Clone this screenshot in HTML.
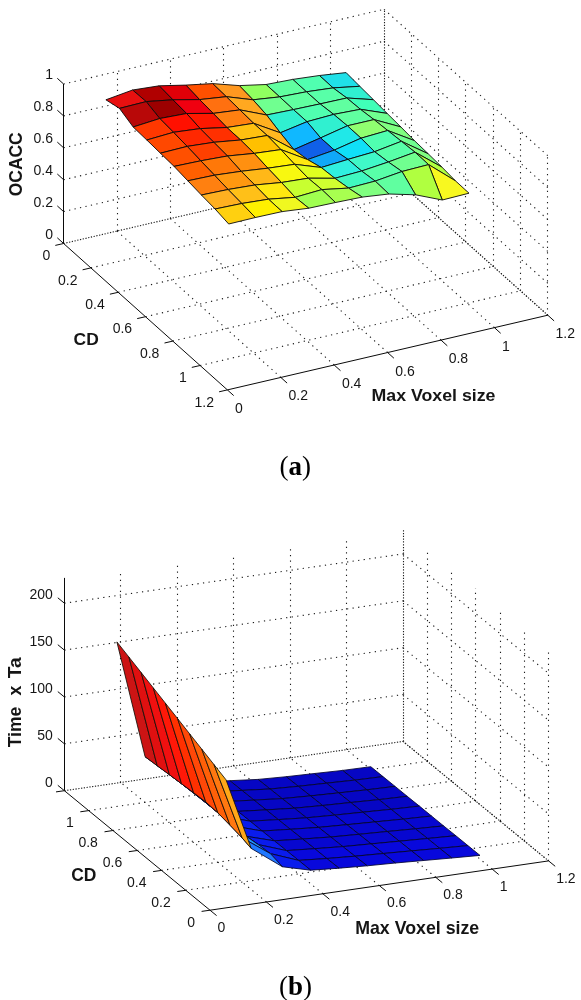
<!DOCTYPE html>
<html lang="en">
<head>
<meta charset="utf-8">
<title>Figure: OCACC and Time x Ta versus CD and Max Voxel size</title>
<style>
html,body{margin:0;padding:0;background:#fff;}
body{width:581px;height:1000px;overflow:hidden;}
svg{display:block;font-family:"Liberation Sans",sans-serif;fill:#151515;}
svg line{shape-rendering:auto;}
</style>
</head>
<body>
<svg width="581" height="1000" viewBox="0 0 581 1000">
<rect x="0" y="0" width="581" height="1000" fill="#ffffff"/>
<g id="plot-a">
<line x1="63.6" y1="243.5" x2="384.0" y2="168.8" stroke="#1c1c1c" stroke-width="1.1" stroke-dasharray="1.25 4.35" fill="none"/>
<line x1="384.0" y1="168.8" x2="547.8" y2="315.2" stroke="#1c1c1c" stroke-width="1.1" stroke-dasharray="1.25 4.35" fill="none"/>
<line x1="63.6" y1="211.6" x2="384.0" y2="136.9" stroke="#1c1c1c" stroke-width="1.1" stroke-dasharray="1.25 4.35" fill="none"/>
<line x1="384.0" y1="136.9" x2="547.8" y2="283.3" stroke="#1c1c1c" stroke-width="1.1" stroke-dasharray="1.25 4.35" fill="none"/>
<line x1="63.6" y1="179.7" x2="384.0" y2="105.0" stroke="#1c1c1c" stroke-width="1.1" stroke-dasharray="1.25 4.35" fill="none"/>
<line x1="384.0" y1="105.0" x2="547.8" y2="251.4" stroke="#1c1c1c" stroke-width="1.1" stroke-dasharray="1.25 4.35" fill="none"/>
<line x1="63.6" y1="147.8" x2="384.0" y2="73.1" stroke="#1c1c1c" stroke-width="1.1" stroke-dasharray="1.25 4.35" fill="none"/>
<line x1="384.0" y1="73.1" x2="547.8" y2="219.5" stroke="#1c1c1c" stroke-width="1.1" stroke-dasharray="1.25 4.35" fill="none"/>
<line x1="63.6" y1="115.9" x2="384.0" y2="41.2" stroke="#1c1c1c" stroke-width="1.1" stroke-dasharray="1.25 4.35" fill="none"/>
<line x1="384.0" y1="41.2" x2="547.8" y2="187.6" stroke="#1c1c1c" stroke-width="1.1" stroke-dasharray="1.25 4.35" fill="none"/>
<line x1="63.6" y1="84.0" x2="384.0" y2="9.3" stroke="#1c1c1c" stroke-width="1.1" stroke-dasharray="1.25 4.35" fill="none"/>
<line x1="384.0" y1="9.3" x2="547.8" y2="155.7" stroke="#1c1c1c" stroke-width="1.1" stroke-dasharray="1.25 4.35" fill="none"/>
<line x1="117.5" y1="231.1" x2="117.5" y2="71.6" stroke="#1c1c1c" stroke-width="1.1" stroke-dasharray="1.25 4.35" fill="none"/>
<line x1="411.5" y1="193.2" x2="411.5" y2="33.7" stroke="#1c1c1c" stroke-width="1.1" stroke-dasharray="1.25 4.35" fill="none"/>
<line x1="170.5" y1="218.6" x2="170.5" y2="59.1" stroke="#1c1c1c" stroke-width="1.1" stroke-dasharray="1.25 4.35" fill="none"/>
<line x1="438.5" y1="217.6" x2="438.5" y2="58.1" stroke="#1c1c1c" stroke-width="1.1" stroke-dasharray="1.25 4.35" fill="none"/>
<line x1="223.5" y1="206.1" x2="223.5" y2="46.6" stroke="#1c1c1c" stroke-width="1.1" stroke-dasharray="1.25 4.35" fill="none"/>
<line x1="465.5" y1="242.0" x2="465.5" y2="82.5" stroke="#1c1c1c" stroke-width="1.1" stroke-dasharray="1.25 4.35" fill="none"/>
<line x1="277.5" y1="193.7" x2="277.5" y2="34.2" stroke="#1c1c1c" stroke-width="1.1" stroke-dasharray="1.25 4.35" fill="none"/>
<line x1="493.5" y1="266.4" x2="493.5" y2="106.9" stroke="#1c1c1c" stroke-width="1.1" stroke-dasharray="1.25 4.35" fill="none"/>
<line x1="330.5" y1="181.2" x2="330.5" y2="21.8" stroke="#1c1c1c" stroke-width="1.1" stroke-dasharray="1.25 4.35" fill="none"/>
<line x1="520.5" y1="290.8" x2="520.5" y2="131.3" stroke="#1c1c1c" stroke-width="1.1" stroke-dasharray="1.25 4.35" fill="none"/>
<line x1="384.5" y1="168.8" x2="384.5" y2="9.3" stroke="#1c1c1c" stroke-width="1.1" stroke-dasharray="1.25 4.35" fill="none"/>
<line x1="547.5" y1="315.2" x2="547.5" y2="155.7" stroke="#1c1c1c" stroke-width="1.1" stroke-dasharray="1.25 4.35" fill="none"/>
<line x1="280.8" y1="377.4" x2="117.0" y2="231.1" stroke="#1c1c1c" stroke-width="1.1" stroke-dasharray="1.25 4.35" fill="none"/>
<line x1="334.2" y1="365.0" x2="170.4" y2="218.6" stroke="#1c1c1c" stroke-width="1.1" stroke-dasharray="1.25 4.35" fill="none"/>
<line x1="387.6" y1="352.5" x2="223.8" y2="206.1" stroke="#1c1c1c" stroke-width="1.1" stroke-dasharray="1.25 4.35" fill="none"/>
<line x1="441.0" y1="340.1" x2="277.2" y2="193.7" stroke="#1c1c1c" stroke-width="1.1" stroke-dasharray="1.25 4.35" fill="none"/>
<line x1="494.4" y1="327.6" x2="330.6" y2="181.2" stroke="#1c1c1c" stroke-width="1.1" stroke-dasharray="1.25 4.35" fill="none"/>
<line x1="547.8" y1="315.2" x2="384.0" y2="168.8" stroke="#1c1c1c" stroke-width="1.1" stroke-dasharray="1.25 4.35" fill="none"/>
<line x1="90.9" y1="267.9" x2="411.3" y2="193.2" stroke="#1c1c1c" stroke-width="1.1" stroke-dasharray="1.25 4.35" fill="none"/>
<line x1="118.2" y1="292.3" x2="438.6" y2="217.6" stroke="#1c1c1c" stroke-width="1.1" stroke-dasharray="1.25 4.35" fill="none"/>
<line x1="145.5" y1="316.7" x2="465.9" y2="242.0" stroke="#1c1c1c" stroke-width="1.1" stroke-dasharray="1.25 4.35" fill="none"/>
<line x1="172.8" y1="341.1" x2="493.2" y2="266.4" stroke="#1c1c1c" stroke-width="1.1" stroke-dasharray="1.25 4.35" fill="none"/>
<line x1="200.1" y1="365.5" x2="520.5" y2="290.8" stroke="#1c1c1c" stroke-width="1.1" stroke-dasharray="1.25 4.35" fill="none"/>
<line x1="63.6" y1="243.5" x2="384.0" y2="168.8" stroke="#1c1c1c" stroke-width="1.1" stroke-dasharray="1.25 4.35" fill="none" stroke-dashoffset="2.8"/>
<line x1="384.0" y1="168.8" x2="547.8" y2="315.2" stroke="#1c1c1c" stroke-width="1.1" stroke-dasharray="1.25 4.35" fill="none" stroke-dashoffset="2.8"/>
<line x1="384.5" y1="168.8" x2="384.5" y2="9.3" stroke="#1c1c1c" stroke-width="1.1" stroke-dasharray="1.25 4.35" fill="none" stroke-dashoffset="2.8"/>
<g stroke="#0a0a0a" stroke-width="0.9" stroke-linejoin="round">
<polygon points="319.4,75.5 346.1,72.6 359.8,86.3 333.1,87.9" fill="#20E0E8"/>
<polygon points="292.8,79.4 319.4,75.5 333.1,87.9 306.4,91.8" fill="#50FFB0"/>
<polygon points="266.1,84.5 292.8,79.4 306.4,91.8 279.7,96.9" fill="#60FFA0"/>
<polygon points="239.3,85.6 266.1,84.5 279.7,96.9 253.0,99.8" fill="#90FF60"/>
<polygon points="212.7,83.6 239.3,85.6 253.0,99.8 226.3,96.7" fill="#FF9820"/>
<polygon points="185.9,85.1 212.7,83.6 226.3,96.7 199.6,99.6" fill="#FF5000"/>
<polygon points="159.2,85.8 185.9,85.1 199.6,99.6 172.9,99.8" fill="#E00008"/>
<polygon points="132.6,90.0 159.2,85.8 172.9,99.8 146.2,101.6" fill="#B00000"/>
<polygon points="105.9,99.8 132.6,90.0 146.2,101.6 119.5,108.4" fill="#E81010"/>
<polygon points="333.1,87.9 359.8,86.3 373.4,99.7 346.8,98.0" fill="#30F0D0"/>
<polygon points="306.4,91.8 333.1,87.9 346.8,98.0 320.1,103.9" fill="#58FFA8"/>
<polygon points="279.7,96.9 306.4,91.8 320.1,103.9 293.4,109.6" fill="#60FFA0"/>
<polygon points="253.0,99.8 279.7,96.9 293.4,109.6 266.6,115.0" fill="#70FF90"/>
<polygon points="226.3,96.7 253.0,99.8 266.6,115.0 239.9,109.9" fill="#FFA820"/>
<polygon points="199.6,99.6 226.3,96.7 239.9,109.9 213.2,113.4" fill="#FF7010"/>
<polygon points="172.9,99.8 199.6,99.6 213.2,113.4 186.6,113.5" fill="#F00010"/>
<polygon points="146.2,101.6 172.9,99.8 186.6,113.5 159.8,118.5" fill="#9C0000"/>
<polygon points="119.5,108.4 146.2,101.6 159.8,118.5 133.2,127.0" fill="#B80808"/>
<polygon points="346.8,98.0 373.4,99.7 387.1,113.4 360.4,109.3" fill="#40FFB8"/>
<polygon points="320.1,103.9 346.8,98.0 360.4,109.3 333.7,114.4" fill="#60FFA0"/>
<polygon points="293.4,109.6 320.1,103.9 333.7,114.4 307.0,121.7" fill="#50FFB0"/>
<polygon points="266.6,115.0 293.4,109.6 307.0,121.7 280.3,132.8" fill="#30F0D0"/>
<polygon points="239.9,109.9 266.6,115.0 280.3,132.8 253.6,123.3" fill="#FFB020"/>
<polygon points="213.2,113.4 239.9,109.9 253.6,123.3 226.9,127.5" fill="#FF8010"/>
<polygon points="186.6,113.5 213.2,113.4 226.9,127.5 200.2,128.6" fill="#FF1800"/>
<polygon points="159.8,118.5 186.6,113.5 200.2,128.6 173.5,132.3" fill="#FF1000"/>
<polygon points="133.2,127.0 159.8,118.5 173.5,132.3 146.8,140.0" fill="#FF3800"/>
<polygon points="360.4,109.3 387.1,113.4 400.8,126.9 374.0,119.6" fill="#70FF90"/>
<polygon points="333.7,114.4 360.4,109.3 374.0,119.6 347.4,125.8" fill="#60FFA0"/>
<polygon points="307.0,121.7 333.7,114.4 347.4,125.8 320.6,137.9" fill="#30F0D0"/>
<polygon points="280.3,132.8 307.0,121.7 320.6,137.9 293.9,149.6" fill="#10B8FF"/>
<polygon points="253.6,123.3 280.3,132.8 293.9,149.6 267.2,135.5" fill="#FFB820"/>
<polygon points="226.9,127.5 253.6,123.3 267.2,135.5 240.6,140.0" fill="#FFC010"/>
<polygon points="200.2,128.6 226.9,127.5 240.6,140.0 213.8,142.3" fill="#FF3000"/>
<polygon points="173.5,132.3 200.2,128.6 213.8,142.3 187.2,146.4" fill="#FF2800"/>
<polygon points="146.8,140.0 173.5,132.3 187.2,146.4 160.4,153.2" fill="#FF4800"/>
<polygon points="374.0,119.6 400.8,126.9 414.4,140.6 387.7,130.5" fill="#80FF80"/>
<polygon points="347.4,125.8 374.0,119.6 387.7,130.5 361.0,138.2" fill="#90FF70"/>
<polygon points="320.6,137.9 347.4,125.8 361.0,138.2 334.3,150.1" fill="#20E8E8"/>
<polygon points="293.9,149.6 320.6,137.9 334.3,150.1 307.6,159.6" fill="#1060E8"/>
<polygon points="267.2,135.5 293.9,149.6 307.6,159.6 280.9,149.6" fill="#FFE010"/>
<polygon points="240.6,140.0 267.2,135.5 280.9,149.6 254.2,153.4" fill="#FFC000"/>
<polygon points="213.8,142.3 240.6,140.0 254.2,153.4 227.5,156.0" fill="#FF6A00"/>
<polygon points="187.2,146.4 213.8,142.3 227.5,156.0 200.8,160.8" fill="#FF4000"/>
<polygon points="160.4,153.2 187.2,146.4 200.8,160.8 174.1,166.4" fill="#FF5000"/>
<polygon points="387.7,130.5 414.4,140.6 428.1,153.7 401.4,141.3" fill="#70FF90"/>
<polygon points="361.0,138.2 387.7,130.5 401.4,141.3 374.6,151.7" fill="#50FFB0"/>
<polygon points="334.3,150.1 361.0,138.2 374.6,151.7 348.0,159.4" fill="#10E0F8"/>
<polygon points="307.6,159.6 334.3,150.1 348.0,159.4 321.2,167.5" fill="#10A8F8"/>
<polygon points="280.9,149.6 307.6,159.6 321.2,167.5 294.6,164.3" fill="#FFE810"/>
<polygon points="254.2,153.4 280.9,149.6 294.6,164.3 267.9,168.2" fill="#FFF000"/>
<polygon points="227.5,156.0 254.2,153.4 267.9,168.2 241.2,171.3" fill="#FF9010"/>
<polygon points="200.8,160.8 227.5,156.0 241.2,171.3 214.5,175.2" fill="#FF7808"/>
<polygon points="174.1,166.4 200.8,160.8 214.5,175.2 187.8,180.8" fill="#FF6000"/>
<polygon points="401.4,141.3 428.1,153.7 441.7,166.9 415.0,152.2" fill="#80FF80"/>
<polygon points="374.6,151.7 401.4,141.3 415.0,152.2 388.3,162.0" fill="#58FFA8"/>
<polygon points="348.0,159.4 374.6,151.7 388.3,162.0 361.6,171.0" fill="#40F8C8"/>
<polygon points="321.2,167.5 348.0,159.4 361.6,171.0 334.9,178.3" fill="#30F0E0"/>
<polygon points="294.6,164.3 321.2,167.5 334.9,178.3 308.2,178.2" fill="#E0FF20"/>
<polygon points="267.9,168.2 294.6,164.3 308.2,178.2 281.5,182.5" fill="#F8F810"/>
<polygon points="241.2,171.3 267.9,168.2 281.5,182.5 254.8,185.0" fill="#FFB818"/>
<polygon points="214.5,175.2 241.2,171.3 254.8,185.0 228.1,189.5" fill="#FF9810"/>
<polygon points="187.8,180.8 214.5,175.2 228.1,189.5 201.4,195.0" fill="#FF8010"/>
<polygon points="415.0,152.2 441.7,166.9 455.4,180.8 428.6,164.6" fill="#B0FF40"/>
<polygon points="388.3,162.0 415.0,152.2 428.6,164.6 402.0,171.5" fill="#70FF90"/>
<polygon points="361.6,171.0 388.3,162.0 402.0,171.5 375.2,181.1" fill="#58FFA8"/>
<polygon points="334.9,178.3 361.6,171.0 375.2,181.1 348.6,188.1" fill="#40F8C0"/>
<polygon points="308.2,178.2 334.9,178.3 348.6,188.1 321.9,189.6" fill="#D0FF30"/>
<polygon points="281.5,182.5 308.2,178.2 321.9,189.6 295.2,197.3" fill="#C8FF30"/>
<polygon points="254.8,185.0 281.5,182.5 295.2,197.3 268.5,199.2" fill="#FFE810"/>
<polygon points="228.1,189.5 254.8,185.0 268.5,199.2 241.8,203.5" fill="#FFC018"/>
<polygon points="201.4,195.0 228.1,189.5 241.8,203.5 215.1,209.0" fill="#FFB020"/>
<polygon points="428.6,164.6 455.4,180.8 469.0,193.2 442.3,200.0" fill="#F8F820"/>
<polygon points="402.0,171.5 428.6,164.6 442.3,200.0 415.6,194.8" fill="#B0FF40"/>
<polygon points="375.2,181.1 402.0,171.5 415.6,194.8 388.9,194.0" fill="#60FFA0"/>
<polygon points="348.6,188.1 375.2,181.1 388.9,194.0 362.2,197.1" fill="#80FF80"/>
<polygon points="321.9,189.6 348.6,188.1 362.2,197.1 335.5,202.5" fill="#A8FF50"/>
<polygon points="295.2,197.3 321.9,189.6 335.5,202.5 308.8,208.2" fill="#A0FF50"/>
<polygon points="268.5,199.2 295.2,197.3 308.8,208.2 282.1,211.6" fill="#F0F820"/>
<polygon points="241.8,203.5 268.5,199.2 282.1,211.6 255.4,217.5" fill="#FFF000"/>
<polygon points="215.1,209.0 241.8,203.5 255.4,217.5 228.7,224.0" fill="#FFD010"/>
</g>
<line x1="63.5" y1="243.5" x2="63.5" y2="84.0" stroke="#0a0a0a" stroke-width="1" fill="none"/>
<line x1="63.6" y1="243.5" x2="227.4" y2="389.9" stroke="#0a0a0a" stroke-width="1" fill="none"/>
<line x1="227.4" y1="389.9" x2="547.8" y2="315.2" stroke="#0a0a0a" stroke-width="1" fill="none"/>
<line x1="63.6" y1="243.5" x2="57.3" y2="237.8" stroke="#0a0a0a" stroke-width="1" fill="none"/>
<text x="53.0" y="238.9" text-anchor="end" font-size="14" font-weight="normal" >0</text>
<line x1="63.6" y1="211.6" x2="57.3" y2="205.9" stroke="#0a0a0a" stroke-width="1" fill="none"/>
<text x="53.0" y="207.0" text-anchor="end" font-size="14" font-weight="normal" >0.2</text>
<line x1="63.6" y1="179.7" x2="57.3" y2="174.0" stroke="#0a0a0a" stroke-width="1" fill="none"/>
<text x="53.0" y="175.1" text-anchor="end" font-size="14" font-weight="normal" >0.4</text>
<line x1="63.6" y1="147.8" x2="57.3" y2="142.1" stroke="#0a0a0a" stroke-width="1" fill="none"/>
<text x="53.0" y="143.2" text-anchor="end" font-size="14" font-weight="normal" >0.6</text>
<line x1="63.6" y1="115.9" x2="57.3" y2="110.2" stroke="#0a0a0a" stroke-width="1" fill="none"/>
<text x="53.0" y="111.3" text-anchor="end" font-size="14" font-weight="normal" >0.8</text>
<line x1="63.6" y1="84.0" x2="57.3" y2="78.3" stroke="#0a0a0a" stroke-width="1" fill="none"/>
<text x="53.0" y="79.4" text-anchor="end" font-size="14" font-weight="normal" >1</text>
<line x1="63.6" y1="243.5" x2="55.3" y2="245.4" stroke="#0a0a0a" stroke-width="1" fill="none"/>
<text x="50.2" y="260.1" text-anchor="end" font-size="14" font-weight="normal" >0</text>
<line x1="90.9" y1="267.9" x2="82.6" y2="269.8" stroke="#0a0a0a" stroke-width="1" fill="none"/>
<text x="77.5" y="284.5" text-anchor="end" font-size="14" font-weight="normal" >0.2</text>
<line x1="118.2" y1="292.3" x2="109.9" y2="294.2" stroke="#0a0a0a" stroke-width="1" fill="none"/>
<text x="104.8" y="308.9" text-anchor="end" font-size="14" font-weight="normal" >0.4</text>
<line x1="145.5" y1="316.7" x2="137.2" y2="318.6" stroke="#0a0a0a" stroke-width="1" fill="none"/>
<text x="132.1" y="333.3" text-anchor="end" font-size="14" font-weight="normal" >0.6</text>
<line x1="172.8" y1="341.1" x2="164.5" y2="343.0" stroke="#0a0a0a" stroke-width="1" fill="none"/>
<text x="159.4" y="357.7" text-anchor="end" font-size="14" font-weight="normal" >0.8</text>
<line x1="200.1" y1="365.5" x2="191.8" y2="367.4" stroke="#0a0a0a" stroke-width="1" fill="none"/>
<text x="186.7" y="382.1" text-anchor="end" font-size="14" font-weight="normal" >1</text>
<line x1="227.4" y1="389.9" x2="219.1" y2="391.8" stroke="#0a0a0a" stroke-width="1" fill="none"/>
<text x="214.0" y="406.5" text-anchor="end" font-size="14" font-weight="normal" >1.2</text>
<line x1="227.4" y1="389.9" x2="233.7" y2="395.6" stroke="#0a0a0a" stroke-width="1" fill="none"/>
<text x="235.1" y="412.9" text-anchor="start" font-size="14" font-weight="normal" >0</text>
<line x1="280.8" y1="377.4" x2="287.1" y2="383.1" stroke="#0a0a0a" stroke-width="1" fill="none"/>
<text x="288.5" y="400.4" text-anchor="start" font-size="14" font-weight="normal" >0.2</text>
<line x1="334.2" y1="365.0" x2="340.5" y2="370.7" stroke="#0a0a0a" stroke-width="1" fill="none"/>
<text x="341.9" y="388.0" text-anchor="start" font-size="14" font-weight="normal" >0.4</text>
<line x1="387.6" y1="352.5" x2="393.9" y2="358.2" stroke="#0a0a0a" stroke-width="1" fill="none"/>
<text x="395.3" y="375.5" text-anchor="start" font-size="14" font-weight="normal" >0.6</text>
<line x1="441.0" y1="340.1" x2="447.3" y2="345.8" stroke="#0a0a0a" stroke-width="1" fill="none"/>
<text x="448.7" y="363.1" text-anchor="start" font-size="14" font-weight="normal" >0.8</text>
<line x1="494.4" y1="327.6" x2="500.7" y2="333.3" stroke="#0a0a0a" stroke-width="1" fill="none"/>
<text x="502.1" y="350.6" text-anchor="start" font-size="14" font-weight="normal" >1</text>
<line x1="547.8" y1="315.2" x2="554.1" y2="320.9" stroke="#0a0a0a" stroke-width="1" fill="none"/>
<text x="555.5" y="338.2" text-anchor="start" font-size="14" font-weight="normal" >1.2</text>
<text transform="translate(22.3,196.3) rotate(-90)" font-size="18.2" font-weight="bold" textLength="64" lengthAdjust="spacingAndGlyphs">OCACC</text>
<text x="73.6" y="344.6" font-size="17.4" font-weight="bold" textLength="25.2" lengthAdjust="spacingAndGlyphs">CD</text>
<text x="371.5" y="401" font-size="17.4" font-weight="bold" textLength="124" lengthAdjust="spacingAndGlyphs">Max Voxel size</text>
<text x="279.5" y="475.2" font-family="'Liberation Serif', serif" font-size="27" fill="#000">(<tspan font-weight="bold">a</tspan>)</text>
</g>
<g id="plot-b">
<line x1="64.4" y1="790.7" x2="403.0" y2="741.4" stroke="#1c1c1c" stroke-width="1.1" stroke-dasharray="1.25 4.35" fill="none"/>
<line x1="403.0" y1="741.4" x2="548.6" y2="860.9" stroke="#1c1c1c" stroke-width="1.1" stroke-dasharray="1.25 4.35" fill="none"/>
<line x1="64.4" y1="743.8" x2="403.0" y2="694.5" stroke="#1c1c1c" stroke-width="1.1" stroke-dasharray="1.25 4.35" fill="none"/>
<line x1="403.0" y1="694.5" x2="548.6" y2="814.0" stroke="#1c1c1c" stroke-width="1.1" stroke-dasharray="1.25 4.35" fill="none"/>
<line x1="64.4" y1="697.0" x2="403.0" y2="647.7" stroke="#1c1c1c" stroke-width="1.1" stroke-dasharray="1.25 4.35" fill="none"/>
<line x1="403.0" y1="647.7" x2="548.6" y2="767.2" stroke="#1c1c1c" stroke-width="1.1" stroke-dasharray="1.25 4.35" fill="none"/>
<line x1="64.4" y1="650.1" x2="403.0" y2="600.8" stroke="#1c1c1c" stroke-width="1.1" stroke-dasharray="1.25 4.35" fill="none"/>
<line x1="403.0" y1="600.8" x2="548.6" y2="720.3" stroke="#1c1c1c" stroke-width="1.1" stroke-dasharray="1.25 4.35" fill="none"/>
<line x1="64.4" y1="603.2" x2="403.0" y2="553.9" stroke="#1c1c1c" stroke-width="1.1" stroke-dasharray="1.25 4.35" fill="none"/>
<line x1="403.0" y1="553.9" x2="548.6" y2="673.4" stroke="#1c1c1c" stroke-width="1.1" stroke-dasharray="1.25 4.35" fill="none"/>
<line x1="120.5" y1="782.5" x2="120.5" y2="569.7" stroke="#1c1c1c" stroke-width="1.1" stroke-dasharray="1.25 4.35" fill="none"/>
<line x1="177.5" y1="774.3" x2="177.5" y2="561.5" stroke="#1c1c1c" stroke-width="1.1" stroke-dasharray="1.25 4.35" fill="none"/>
<line x1="233.5" y1="766.1" x2="233.5" y2="553.2" stroke="#1c1c1c" stroke-width="1.1" stroke-dasharray="1.25 4.35" fill="none"/>
<line x1="290.5" y1="757.8" x2="290.5" y2="545.0" stroke="#1c1c1c" stroke-width="1.1" stroke-dasharray="1.25 4.35" fill="none"/>
<line x1="346.5" y1="749.6" x2="346.5" y2="536.8" stroke="#1c1c1c" stroke-width="1.1" stroke-dasharray="1.25 4.35" fill="none"/>
<line x1="403.5" y1="741.4" x2="403.5" y2="528.6" stroke="#1c1c1c" stroke-width="1.1" stroke-dasharray="1.25 4.35" fill="none"/>
<line x1="548.5" y1="860.9" x2="548.5" y2="648.1" stroke="#1c1c1c" stroke-width="1.1" stroke-dasharray="1.25 4.35" fill="none"/>
<line x1="524.5" y1="841.0" x2="524.5" y2="628.2" stroke="#1c1c1c" stroke-width="1.1" stroke-dasharray="1.25 4.35" fill="none"/>
<line x1="500.5" y1="821.1" x2="500.5" y2="608.3" stroke="#1c1c1c" stroke-width="1.1" stroke-dasharray="1.25 4.35" fill="none"/>
<line x1="475.5" y1="801.2" x2="475.5" y2="588.3" stroke="#1c1c1c" stroke-width="1.1" stroke-dasharray="1.25 4.35" fill="none"/>
<line x1="451.5" y1="781.2" x2="451.5" y2="568.4" stroke="#1c1c1c" stroke-width="1.1" stroke-dasharray="1.25 4.35" fill="none"/>
<line x1="427.5" y1="761.3" x2="427.5" y2="548.5" stroke="#1c1c1c" stroke-width="1.1" stroke-dasharray="1.25 4.35" fill="none"/>
<line x1="266.4" y1="902.0" x2="120.8" y2="782.5" stroke="#1c1c1c" stroke-width="1.1" stroke-dasharray="1.25 4.35" fill="none"/>
<line x1="322.9" y1="893.8" x2="177.3" y2="774.3" stroke="#1c1c1c" stroke-width="1.1" stroke-dasharray="1.25 4.35" fill="none"/>
<line x1="379.3" y1="885.6" x2="233.7" y2="766.1" stroke="#1c1c1c" stroke-width="1.1" stroke-dasharray="1.25 4.35" fill="none"/>
<line x1="435.7" y1="877.3" x2="290.1" y2="757.8" stroke="#1c1c1c" stroke-width="1.1" stroke-dasharray="1.25 4.35" fill="none"/>
<line x1="492.2" y1="869.1" x2="346.6" y2="749.6" stroke="#1c1c1c" stroke-width="1.1" stroke-dasharray="1.25 4.35" fill="none"/>
<line x1="548.6" y1="860.9" x2="403.0" y2="741.4" stroke="#1c1c1c" stroke-width="1.1" stroke-dasharray="1.25 4.35" fill="none"/>
<line x1="185.7" y1="890.3" x2="524.3" y2="841.0" stroke="#1c1c1c" stroke-width="1.1" stroke-dasharray="1.25 4.35" fill="none"/>
<line x1="161.5" y1="870.4" x2="500.1" y2="821.1" stroke="#1c1c1c" stroke-width="1.1" stroke-dasharray="1.25 4.35" fill="none"/>
<line x1="137.2" y1="850.5" x2="475.8" y2="801.2" stroke="#1c1c1c" stroke-width="1.1" stroke-dasharray="1.25 4.35" fill="none"/>
<line x1="112.9" y1="830.5" x2="451.5" y2="781.2" stroke="#1c1c1c" stroke-width="1.1" stroke-dasharray="1.25 4.35" fill="none"/>
<line x1="88.7" y1="810.6" x2="427.3" y2="761.3" stroke="#1c1c1c" stroke-width="1.1" stroke-dasharray="1.25 4.35" fill="none"/>
<line x1="64.4" y1="790.7" x2="403.0" y2="741.4" stroke="#1c1c1c" stroke-width="1.1" stroke-dasharray="1.25 4.35" fill="none" stroke-dashoffset="2.8"/>
<line x1="403.0" y1="741.4" x2="548.6" y2="860.9" stroke="#1c1c1c" stroke-width="1.1" stroke-dasharray="1.25 4.35" fill="none" stroke-dashoffset="2.8"/>
<line x1="403.5" y1="741.4" x2="403.5" y2="528.6" stroke="#1c1c1c" stroke-width="1.1" stroke-dasharray="1.25 4.35" fill="none" stroke-dashoffset="2.8"/>
<g stroke="#03032e" stroke-width="0.85" stroke-linejoin="round">
<polygon points="354.8,780.1 383.0,776.6 370.8,766.7 342.6,770.4" fill="#0606C4"/>
<polygon points="326.5,783.2 354.8,780.1 342.6,770.4 314.4,773.5" fill="#0606C4"/>
<polygon points="298.3,786.3 326.5,783.2 314.4,773.5 286.2,776.7" fill="#0606C4"/>
<polygon points="270.1,789.0 298.3,786.3 286.2,776.7 258.0,779.4" fill="#0606C4"/>
<polygon points="241.9,790.4 270.1,789.0 258.0,779.4 229.8,780.7" fill="#0606C4"/>
<polygon points="213.7,791.8 241.9,790.4 229.8,780.7 201.5,782.0" fill="#0606C4"/>
<polygon points="185.5,785.5 213.7,791.8 201.5,782.0 173.3,775.3" fill="#0A1CEC"/>
<polygon points="157.2,765.7 185.5,785.5 173.3,775.3 145.1,756.7" fill="#2090F8"/>
<polygon points="129.0,657.2 157.2,765.7 145.1,756.7 116.9,641.9" fill="#CC1414" stroke="#141008"/>
<polygon points="366.9,789.8 395.1,786.4 383.0,776.6 354.8,780.1" fill="#0606C4"/>
<polygon points="338.7,792.9 366.9,789.8 354.8,780.1 326.5,783.2" fill="#0606C4"/>
<polygon points="310.5,795.9 338.7,792.9 326.5,783.2 298.3,786.3" fill="#0606C4"/>
<polygon points="282.2,798.6 310.5,795.9 298.3,786.3 270.1,789.0" fill="#0606C4"/>
<polygon points="254.0,800.1 282.2,798.6 270.1,789.0 241.9,790.4" fill="#0606C4"/>
<polygon points="225.8,801.6 254.0,800.1 241.9,790.4 213.7,791.8" fill="#0606C4"/>
<polygon points="197.6,795.7 225.8,801.6 213.7,791.8 185.5,785.5" fill="#0A1CEC"/>
<polygon points="169.4,774.7 197.6,795.7 185.5,785.5 157.2,765.7" fill="#2090F8"/>
<polygon points="141.2,672.6 169.4,774.7 157.2,765.7 129.0,657.2" fill="#E01010" stroke="#141008"/>
<polygon points="379.0,799.6 407.2,796.3 395.1,786.4 366.9,789.8" fill="#0606C4"/>
<polygon points="350.8,802.5 379.0,799.6 366.9,789.8 338.7,792.9" fill="#0606C4"/>
<polygon points="322.6,805.5 350.8,802.5 338.7,792.9 310.5,795.9" fill="#0606C4"/>
<polygon points="294.4,808.2 322.6,805.5 310.5,795.9 282.2,798.6" fill="#0606C4"/>
<polygon points="266.2,809.9 294.4,808.2 282.2,798.6 254.0,800.1" fill="#0606C4"/>
<polygon points="237.9,811.4 266.2,809.9 254.0,800.1 225.8,801.6" fill="#0606C4"/>
<polygon points="209.7,805.8 237.9,811.4 225.8,801.6 197.6,795.7" fill="#0A1CEC"/>
<polygon points="181.5,783.7 209.7,805.8 197.6,795.7 169.4,774.7" fill="#2090F8"/>
<polygon points="153.3,687.9 181.5,783.7 169.4,774.7 141.2,672.6" fill="#F01010" stroke="#141008"/>
<polygon points="391.2,809.3 419.4,806.1 407.2,796.3 379.0,799.6" fill="#0606C4"/>
<polygon points="362.9,812.2 391.2,809.3 379.0,799.6 350.8,802.5" fill="#0606C4"/>
<polygon points="334.7,815.1 362.9,812.2 350.8,802.5 322.6,805.5" fill="#0606C4"/>
<polygon points="306.5,817.8 334.7,815.1 322.6,805.5 294.4,808.2" fill="#0606C4"/>
<polygon points="278.3,819.6 306.5,817.8 294.4,808.2 266.2,809.9" fill="#0606C4"/>
<polygon points="250.1,821.2 278.3,819.6 266.2,809.9 237.9,811.4" fill="#0606C4"/>
<polygon points="221.9,816.0 250.1,821.2 237.9,811.4 209.7,805.8" fill="#0A1CEC"/>
<polygon points="193.6,792.7 221.9,816.0 209.7,805.8 181.5,783.7" fill="#2090F8"/>
<polygon points="165.4,703.2 193.6,792.7 181.5,783.7 153.3,687.9" fill="#FF1808" stroke="#141008"/>
<polygon points="403.3,819.1 431.5,816.0 419.4,806.1 391.2,809.3" fill="#0707D0"/>
<polygon points="375.1,821.9 403.3,819.1 391.2,809.3 362.9,812.2" fill="#0707D0"/>
<polygon points="346.9,824.7 375.1,821.9 362.9,812.2 334.7,815.1" fill="#0707D0"/>
<polygon points="318.6,827.4 346.9,824.7 334.7,815.1 306.5,817.8" fill="#0707D0"/>
<polygon points="290.4,829.3 318.6,827.4 306.5,817.8 278.3,819.6" fill="#0707D0"/>
<polygon points="262.2,831.0 290.4,829.3 278.3,819.6 250.1,821.2" fill="#0707D0"/>
<polygon points="234.0,826.2 262.2,831.0 250.1,821.2 221.9,816.0" fill="#0A1CEC"/>
<polygon points="205.8,802.0 234.0,826.2 221.9,816.0 193.6,792.7" fill="#2090F8"/>
<polygon points="177.6,718.6 205.8,802.0 193.6,792.7 165.4,703.2" fill="#FF3000" stroke="#141008"/>
<polygon points="415.4,828.8 443.6,825.9 431.5,816.0 403.3,819.1" fill="#0707D0"/>
<polygon points="387.2,831.5 415.4,828.8 403.3,819.1 375.1,821.9" fill="#0707D0"/>
<polygon points="359.0,834.3 387.2,831.5 375.1,821.9 346.9,824.7" fill="#0707D0"/>
<polygon points="330.8,837.0 359.0,834.3 346.9,824.7 318.6,827.4" fill="#0707D0"/>
<polygon points="302.6,839.0 330.8,837.0 318.6,827.4 290.4,829.3" fill="#0707D0"/>
<polygon points="274.3,840.8 302.6,839.0 290.4,829.3 262.2,831.0" fill="#0707D0"/>
<polygon points="246.1,836.3 274.3,840.8 262.2,831.0 234.0,826.2" fill="#0A1CEC"/>
<polygon points="217.9,812.9 246.1,836.3 234.0,826.2 205.8,802.0" fill="#2090F8"/>
<polygon points="189.7,733.9 217.9,812.9 205.8,802.0 177.6,718.6" fill="#FF4808" stroke="#141008"/>
<polygon points="427.6,838.5 455.8,835.7 443.6,825.9 415.4,828.8" fill="#0707D0"/>
<polygon points="399.3,841.2 427.6,838.5 415.4,828.8 387.2,831.5" fill="#0707D0"/>
<polygon points="371.1,843.9 399.3,841.2 387.2,831.5 359.0,834.3" fill="#0707D0"/>
<polygon points="342.9,846.6 371.1,843.9 359.0,834.3 330.8,837.0" fill="#0707D0"/>
<polygon points="314.7,848.7 342.9,846.6 330.8,837.0 302.6,839.0" fill="#0707D0"/>
<polygon points="286.5,850.6 314.7,848.7 302.6,839.0 274.3,840.8" fill="#0707D0"/>
<polygon points="258.3,844.6 286.5,850.6 274.3,840.8 246.1,836.3" fill="#0A1CEC"/>
<polygon points="230.0,825.2 258.3,844.6 246.1,836.3 217.9,812.9" fill="#2090F8"/>
<polygon points="201.8,749.2 230.0,825.2 217.9,812.9 189.7,733.9" fill="#FF6008" stroke="#141008"/>
<polygon points="439.7,848.3 467.9,845.6 455.8,835.7 427.6,838.5" fill="#0808DC"/>
<polygon points="411.5,850.9 439.7,848.3 427.6,838.5 399.3,841.2" fill="#0808DC"/>
<polygon points="383.3,853.5 411.5,850.9 399.3,841.2 371.1,843.9" fill="#0808DC"/>
<polygon points="355.0,856.2 383.3,853.5 371.1,843.9 342.9,846.6" fill="#0808DC"/>
<polygon points="326.8,858.5 355.0,856.2 342.9,846.6 314.7,848.7" fill="#0808DC"/>
<polygon points="298.6,860.4 326.8,858.5 314.7,848.7 286.5,850.6" fill="#0808DC"/>
<polygon points="270.4,853.6 298.6,860.4 286.5,850.6 258.3,844.6" fill="#0A1CEC"/>
<polygon points="242.2,838.0 270.4,853.6 258.3,844.6 230.0,825.2" fill="#2090F8"/>
<polygon points="214.0,764.6 242.2,838.0 230.0,825.2 201.8,749.2" fill="#FF7810" stroke="#141008"/>
<polygon points="451.8,858.0 480.0,855.4 467.9,845.6 439.7,848.3" fill="#0808DC"/>
<polygon points="423.6,860.5 451.8,858.0 439.7,848.3 411.5,850.9" fill="#0808DC"/>
<polygon points="395.4,863.0 423.6,860.5 411.5,850.9 383.3,853.5" fill="#0808DC"/>
<polygon points="367.2,865.8 395.4,863.0 383.3,853.5 355.0,856.2" fill="#0808DC"/>
<polygon points="339.0,868.2 367.2,865.8 355.0,856.2 326.8,858.5" fill="#0808DC"/>
<polygon points="310.7,870.2 339.0,868.2 326.8,858.5 298.6,860.4" fill="#0808DC"/>
<polygon points="282.5,866.8 310.7,870.2 298.6,860.4 270.4,853.6" fill="#0A1CEC"/>
<polygon points="251.2,848.4 282.5,866.8 270.4,853.6 242.2,838.0" fill="#2078FF"/>
<polygon points="226.1,779.9 251.2,848.4 242.2,838.0 214.0,764.6" fill="#FFA818" stroke="#141008"/>
</g>
<line x1="64.5" y1="790.7" x2="64.5" y2="577.9" stroke="#0a0a0a" stroke-width="1" fill="none"/>
<line x1="64.4" y1="790.7" x2="210.0" y2="910.2" stroke="#0a0a0a" stroke-width="1" fill="none"/>
<line x1="210.0" y1="910.2" x2="548.6" y2="860.9" stroke="#0a0a0a" stroke-width="1" fill="none"/>
<line x1="64.4" y1="790.7" x2="57.8" y2="785.3" stroke="#0a0a0a" stroke-width="1" fill="none"/>
<text x="52.8" y="786.5" text-anchor="end" font-size="14" font-weight="normal" >0</text>
<line x1="64.4" y1="743.8" x2="57.8" y2="738.4" stroke="#0a0a0a" stroke-width="1" fill="none"/>
<text x="52.8" y="739.6" text-anchor="end" font-size="14" font-weight="normal" >50</text>
<line x1="64.4" y1="697.0" x2="57.8" y2="691.6" stroke="#0a0a0a" stroke-width="1" fill="none"/>
<text x="52.8" y="692.8" text-anchor="end" font-size="14" font-weight="normal" >100</text>
<line x1="64.4" y1="650.1" x2="57.8" y2="644.7" stroke="#0a0a0a" stroke-width="1" fill="none"/>
<text x="52.8" y="645.9" text-anchor="end" font-size="14" font-weight="normal" >150</text>
<line x1="64.4" y1="603.2" x2="57.8" y2="597.8" stroke="#0a0a0a" stroke-width="1" fill="none"/>
<text x="52.8" y="599.0" text-anchor="end" font-size="14" font-weight="normal" >200</text>
<line x1="210.0" y1="910.2" x2="201.6" y2="911.4" stroke="#0a0a0a" stroke-width="1" fill="none"/>
<text x="195.0" y="927.0" text-anchor="end" font-size="14" font-weight="normal" >0</text>
<line x1="185.7" y1="890.3" x2="177.3" y2="891.5" stroke="#0a0a0a" stroke-width="1" fill="none"/>
<text x="170.7" y="907.1" text-anchor="end" font-size="14" font-weight="normal" >0.2</text>
<line x1="161.5" y1="870.4" x2="153.1" y2="871.6" stroke="#0a0a0a" stroke-width="1" fill="none"/>
<text x="146.5" y="887.2" text-anchor="end" font-size="14" font-weight="normal" >0.4</text>
<line x1="137.2" y1="850.5" x2="128.8" y2="851.7" stroke="#0a0a0a" stroke-width="1" fill="none"/>
<text x="122.2" y="867.3" text-anchor="end" font-size="14" font-weight="normal" >0.6</text>
<line x1="112.9" y1="830.5" x2="104.5" y2="831.8" stroke="#0a0a0a" stroke-width="1" fill="none"/>
<text x="97.9" y="847.3" text-anchor="end" font-size="14" font-weight="normal" >0.8</text>
<line x1="88.7" y1="810.6" x2="80.3" y2="811.8" stroke="#0a0a0a" stroke-width="1" fill="none"/>
<text x="73.7" y="827.4" text-anchor="end" font-size="14" font-weight="normal" >1</text>
<line x1="64.4" y1="790.7" x2="56.0" y2="791.9" stroke="#0a0a0a" stroke-width="1" fill="none"/>
<line x1="210.0" y1="910.2" x2="216.6" y2="915.6" stroke="#0a0a0a" stroke-width="1" fill="none"/>
<text x="217.6" y="931.9" text-anchor="start" font-size="14" font-weight="normal" >0</text>
<line x1="266.4" y1="902.0" x2="273.0" y2="907.4" stroke="#0a0a0a" stroke-width="1" fill="none"/>
<text x="274.0" y="923.7" text-anchor="start" font-size="14" font-weight="normal" >0.2</text>
<line x1="322.9" y1="893.8" x2="329.4" y2="899.2" stroke="#0a0a0a" stroke-width="1" fill="none"/>
<text x="330.5" y="915.5" text-anchor="start" font-size="14" font-weight="normal" >0.4</text>
<line x1="379.3" y1="885.6" x2="385.9" y2="890.9" stroke="#0a0a0a" stroke-width="1" fill="none"/>
<text x="386.9" y="907.3" text-anchor="start" font-size="14" font-weight="normal" >0.6</text>
<line x1="435.7" y1="877.3" x2="442.3" y2="882.7" stroke="#0a0a0a" stroke-width="1" fill="none"/>
<text x="443.3" y="899.0" text-anchor="start" font-size="14" font-weight="normal" >0.8</text>
<line x1="492.2" y1="869.1" x2="498.7" y2="874.5" stroke="#0a0a0a" stroke-width="1" fill="none"/>
<text x="499.8" y="890.8" text-anchor="start" font-size="14" font-weight="normal" >1</text>
<line x1="548.6" y1="860.9" x2="555.2" y2="866.3" stroke="#0a0a0a" stroke-width="1" fill="none"/>
<text x="556.2" y="882.6" text-anchor="start" font-size="14" font-weight="normal" >1.2</text>
<text transform="translate(21.3,747.3) rotate(-90)" font-size="17.8" font-weight="bold" lengthAdjust="spacingAndGlyphs" textLength="40.6">Time</text>
<text transform="translate(21.3,695.5) rotate(-90)" font-size="17.8" font-weight="bold" lengthAdjust="spacingAndGlyphs" textLength="9.8">x</text>
<text transform="translate(21.3,678.2) rotate(-90)" font-size="17.8" font-weight="bold" lengthAdjust="spacingAndGlyphs" textLength="21">Ta</text>
<text x="71.2" y="881.2" font-size="17.8" font-weight="bold" lengthAdjust="spacingAndGlyphs" textLength="25.2">CD</text>
<text x="355.2" y="933.8" font-size="17.8" font-weight="bold" lengthAdjust="spacingAndGlyphs" textLength="124">Max Voxel size</text>
<text x="279" y="994.8" font-family="'Liberation Serif', serif" font-size="27" fill="#000">(<tspan font-weight="bold">b</tspan>)</text>
</g>
</svg>
</body>
</html>
